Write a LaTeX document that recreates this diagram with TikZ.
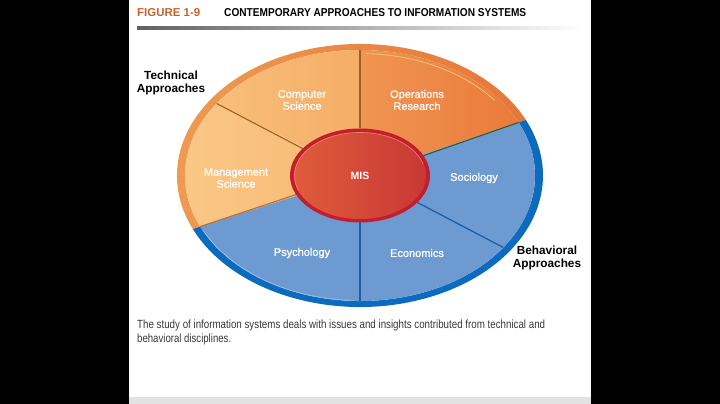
\documentclass[tikz,border=0pt]{standalone}
\usepackage{fontspec}
\setmainfont{Liberation Sans}
\newfontfamily\labfont[FakeBold=0.9]{Liberation Sans}
\usepackage{graphicx}
\definecolor{rimOL}{HTML}{EF9D52}
\definecolor{rimOR}{HTML}{E4773A}
\definecolor{rimB}{HTML}{0B6CBF}
\definecolor{fillB}{HTML}{6D9BD1}
\definecolor{msL}{HTML}{FAC886}
\definecolor{msR}{HTML}{F7B872}
\definecolor{csL}{HTML}{F8BF7A}
\definecolor{csR}{HTML}{F5AD66}
\definecolor{orL}{HTML}{F09553}
\definecolor{orR}{HTML}{EA7A3A}
\definecolor{divBrown}{HTML}{A0601F}
\definecolor{divLow}{HTML}{B8702F}
\definecolor{divGreen}{HTML}{2D5C3C}
\definecolor{divBlue}{HTML}{1D5DA8}
\definecolor{misBorder}{HTML}{C41E2E}
\definecolor{misL}{HTML}{E05C3C}
\definecolor{misR}{HTML}{C83835}
\definecolor{misHi}{HTML}{EE8E7C}
\definecolor{figOrange}{HTML}{C4622D}
\definecolor{capgray}{HTML}{383838}
\definecolor{bandgray}{HTML}{E2E2E2}
\definecolor{hiYellow}{HTML}{F7C27A}
\begin{document}
\begin{tikzpicture}[x=1pt,y=1pt,
  lab/.style={text=white,font=\labfont\fontsize{11}{12}\selectfont,align=center,inner sep=0pt},
  side/.style={text=black,font=\bfseries\fontsize{11.8}{12.5}\selectfont,align=center,inner sep=0pt},
  divO/.style={draw=divBrown,line width=1.1pt},
  divB/.style={draw=divBlue,line width=1.3pt},
  plain/.style={inner sep=0pt,anchor=base west},
  oarc/.style={x radius=183pt,y radius=131.5pt},
  iarc/.style={x radius=175pt,y radius=125.5pt},
]
\useasboundingbox (0,0) rectangle (720,404);
\fill[white] (0,0) rectangle (720,404);
\fill[black] (0,0) rectangle (129,404);
\fill[black] (591,0) rectangle (720,404);
\fill[bandgray] (129,0) rectangle (591,7);

% title
\node[plain,text=figOrange,font=\bfseries] (fig) at (137,387) {\resizebox{63pt}{8pt}{FIGURE 1-9}};
\node[plain,text=black,font=\bfseries] (title) at (224,387) {\resizebox{302pt}{8pt}{CONTEMPORARY APPROACHES TO INFORMATION SYSTEMS}};
\shade[left color=black!62,right color=white] (137,374) rectangle (583,377.5);

\begin{scope}[shift={(360,228.5)}]
\coordinate (c) at (0,0);
% rims
\shade[left color=rimOL,right color=rimOR] (25:183pt and 131.5pt) arc[start angle=25,end angle=204,oarc]
  -- (204:175pt and 125.5pt) arc[start angle=204,end angle=25,iarc] -- cycle;
\fill[rimB] (204:183pt and 131.5pt) arc[start angle=204,end angle=385,oarc]
  -- (25:175pt and 125.5pt) arc[start angle=385,end angle=204,iarc] -- cycle;
% sectors
\shade[left color=orL,right color=orR] (c) -- (25:175pt and 125.5pt) arc[start angle=25,end angle=90,iarc] -- cycle;
\shade[left color=csL,right color=csR] (c) -- (90:175pt and 125.5pt) arc[start angle=90,end angle=145,iarc] -- cycle;
\shade[left color=msL,right color=msR] (c) -- (145:175pt and 125.5pt) arc[start angle=145,end angle=204,iarc] -- cycle;
\fill[fillB] (c) -- (204:175pt and 125.5pt) arc[start angle=204,end angle=385,iarc] -- cycle;
% highlights
\draw[hiYellow,line width=0.8pt] (38:171pt and 122pt) arc[start angle=38,end angle=88,x radius=171pt,y radius=122pt];
\draw[white,opacity=0.35,line width=0.6pt] (206:174.5pt and 125pt) arc[start angle=206,end angle=268,x radius=174.5pt,y radius=125pt];
% dividers
\draw[divO] (90:70pt and 47pt) -- (90:175pt and 125.5pt);
\draw[divO] (145:70pt and 47pt) -- (145:175pt and 125.5pt);
\draw[draw=divLow,line width=1.1pt] (204:70pt and 47pt) -- (204:175pt and 125.5pt);
\draw[draw=divGreen,line width=1.1pt] (25:70pt and 47pt) -- (25:175pt and 125.5pt);
\draw[divB] (270:70pt and 47pt) -- (270:175pt and 125.5pt);
\draw[divB] (325:70pt and 47pt) -- (325:175pt and 125.5pt);
% MIS
\fill[misBorder] (c) ellipse[x radius=70pt,y radius=47pt];
\shade[left color=misL,right color=misR] (c) ellipse[x radius=66pt,y radius=43.5pt];
\draw[misHi,line width=0.6pt,opacity=0.8] (15:65.5pt and 43pt) arc[start angle=15,end angle=200,x radius=65.5pt,y radius=43pt];
\end{scope}

% labels
\node[lab] (cs) at (302,304) {Computer\\Science};
\node[lab] (or) at (417,304) {Operations\\Research};
\node[lab] (ms) at (236,226) {Management\\Science};
\node[lab,font=\bfseries\fontsize{10.5}{12}\selectfont] (mis) at (360,228) {MIS};
\node[lab] (soc) at (474,226) {Sociology};
\node[lab] (psy) at (302,151) {Psychology};
\node[lab] (eco) at (417,151) {Economics};
\node[side] (tech) at (171,321) {Technical\\Approaches};
\node[side] (beh) at (547,146) {Behavioral\\Approaches};

% caption
\node[plain,text=capgray] (cap1) at (137,75) {\resizebox{408pt}{8.6pt}{The study of information systems deals with issues and insights contributed from technical and}};
\node[plain,text=capgray] (cap2) at (137,61) {\resizebox{94pt}{8.6pt}{behavioral disciplines.}};
\end{tikzpicture}
\end{document}
